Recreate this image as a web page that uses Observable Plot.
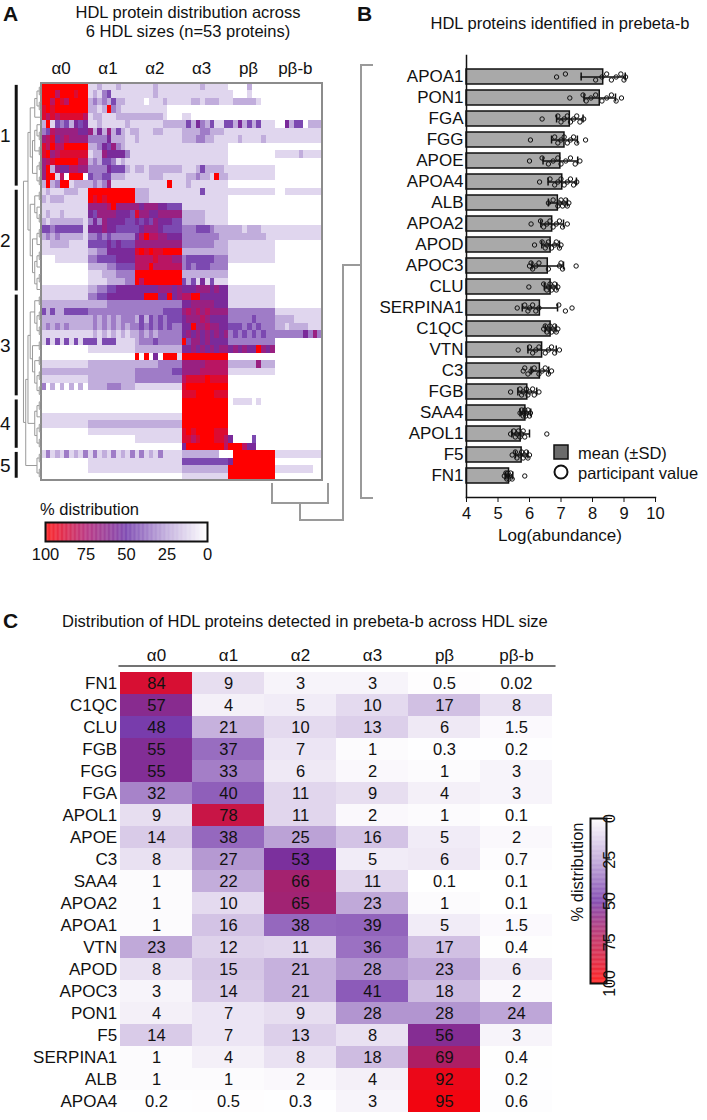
<!DOCTYPE html>
<html><head><meta charset="utf-8">
<script src="https://cdn.jsdelivr.net/npm/d3@7"></script>
<script src="https://cdn.jsdelivr.net/npm/@observablehq/plot@0.6"></script>
<style>
body{margin:0;background:#fff;}
#fig{position:relative;width:707px;height:1120px;overflow:hidden;background:#fff;font-family:"Liberation Sans",Arial,sans-serif;}
</style></head><body><div id="fig"></div>
<script>
// ---------------- DATA ----------------
const sizes = ["α0","α1","α2","α3","pβ","pβ-b"];

// Panel A: 53 proteins x (6 sizes x 10 participants); digit 0..9 = 0..100 % distribution
const heatRows = [
"9999999999 1121112111 1111211111 1111211111 0000200000 0000000000",
"9997999899 1213411111 1111211111 1111111111 1000100000 0000000000",
"9979879999 2323242211 1101112111 1122122211 1222221000 0000000000",
"8989999999 2212932111 1111111000 0000000000 0000000000 0000000000",
"8787888887 1221112222 2222221000 1100000000 0000000000 0000000000",
"2914342545 1121111121 1111112222 2425324114 4252424111 0052440222",
"3476666655 6252624212 2111221111 2222332221 1111111111 1111111111",
"6785676666 3333522211 2111111111 2223322111 1121111211 1111111111",
"8797799999 2235463211 1111111111 1111111111 0000000000 0000000000",
"8967888888 1226555531 1111111111 1111111111 0000000000 1111121111",
"6789999977 2324431211 1111111111 1111111111 0000000000 0000000000",
"6926557766 3333544421 2212222222 1112422221 1111111111 0000000000",
"6991709990 4334422211 1112221111 1223221922 1111111111 0000000000",
"2923991222 2323611111 1111111911 1211111111 0000000000 0000000000",
"1211122211 9999999999 2221111111 1111411111 1111111111 0011111111",
"2122211111 9898999999 2221111111 1111111111 0000000000 0000000000",
"1111111111 6666796666 6566655444 1111111111 0000000000 0000000000",
"1211211111 5466665554 8665566666 2222211111 0000000000 0000000000",
"2122222221 3536555544 5454655544 2222211111 0000000000 0000000000",
"4434444441 5556554444 4566654444 3334443222 2221222111 1111111111",
"2323222221 3343433333 5797766555 3333333322 2222222211 1111111111",
"1122221111 4444545444 6666666666 3333333222 1111111111 0000000000",
"1111111111 2233555555 8989889999 2222222222 1111111111 0000000000",
"0001111111 3344445555 7777877766 3444444333 1111111111 0000000000",
"0000000000 2222334444 7779777777 3434443333 0000000000 0000000000",
"0000000000 1112223333 9999999999 2222222222 0000000000 0000000000",
"0000000000 1111222233 9799999999 4241514111 0000000000 0000000000",
"1111111111 2233445555 5555566656 5556665655 1111111111 0000000000",
"1111111111 3344555555 5599955956 7799555555 1111111111 0000000000",
"2222222222 2222333333 3333333333 5566666555 1111111111 0000000000",
"4242244444 3333333333 3333334444 6767676666 3333333333 1111111111",
"2222222222 2323232333 2424343444 5666765555 3333343333 2222111111",
"2323232222 2323232323 3434343433 5596676655 4443434333 2212222111",
"1111111111 1212121212 2323233333 5656565656 3434343433 3333335363",
"1414141414 4414441111 2333433333 9466565555 3333333333 0000000000",
"0000000000 1111111111 2222222222 5565656566 5656559656 0000000000",
"0000000000 0000000000 9090509991 9999999999 0000000000 0000000000",
"1111111111 2222222222 2222233333 6666677777 2222226222 0000000000",
"2222222222 2222222222 3333333344 6666777777 1111111111 0000000000",
"1111111111 2222222222 3333333333 7888898888 0000000000 0000000000",
"3020202020 2222333222 1111111111 8999999999 0000000000 0000000000",
"0000000000 0000000000 0000000000 8889999888 0000000000 0000000000",
"0000000000 0000000000 0000000000 9999999999 0111101000 0000000000",
"0000000000 0000000000 0000000000 9999999999 0000000000 0000000000",
"1111111111 1111111111 1111111111 9999999999 0000000000 0000000000",
"1111111111 2222222222 2222222222 9999999999 0000000000 0000000000",
"0000000000 1111111111 1111111111 8989999888 0000000000 0000000000",
"0000000000 0000000000 1111111111 8878999887 5000040000 0000000000",
"0000000000 0000000000 0000000000 5999999997 9997550000 0000000000",
"1312131213 1312131213 1312131111 2222222200 0999999999 1111111111",
"0000000000 1111111111 1111111111 4444444444 5999999999 0000000000",
"0000000000 1111111111 1111111111 2222222222 9999999999 1111111100",
"0000000000 0000000000 0000000000 1111111111 9999999999 0000000000"
];
const clusterLabels = ["1","2","3","4","5"];
const clusterStartRow = [0, 14, 28, 42, 49];
const clusterEndRow = [13, 27, 41, 48, 52];
const rowTree = [
  [
    [[[[0,1],[2,3]],4],[[[5,[6,7]],[8,9]],[[10,11],[12,13]]]],
    [[[14,15],[16,[17,18]]],[[[19,20],21],[[[22,23],24],[[25,26],27]]]]
  ],
  [
    [
      [[[28,29],[[30,31],[32,33]]],[[34,35],[[36,37],[[38,39],[40,41]]]]],
      [[[42,43],44],[[45,46],[47,48]]]
    ],
    [[49,50],[51,52]]
  ]
];

// Panel B
const bProteins = ["APOA1","PON1","FGA","FGG","APOE","APOA4","ALB","APOA2","APOD","APOC3","CLU","SERPINA1","C1QC","VTN","C3","FGB","SAA4","APOL1","F5","FN1"];
const bMean = [8.34,8.23,7.28,7.11,6.98,7.04,6.9,6.72,6.67,6.58,6.67,6.33,6.67,6.4,6.33,5.93,5.87,5.72,5.75,5.35];
const bSD   = [0.7,0.5,0.42,0.41,0.55,0.45,0.3,0.36,0.28,0.5,0.2,0.56,0.17,0.45,0.28,0.3,0.17,0.28,0.2,0.12];
const bValues = [
  [6.86,7.14,8.1,8.3,8.45,8.6,8.75,8.9,9.0,9.05],
  [7.28,7.7,7.8,7.95,8.1,8.3,8.45,8.6,8.75,8.92],
  [6.4,6.9,7.0,7.1,7.2,7.3,7.4,7.5,7.6,7.72],
  [6.03,6.8,6.9,7.0,7.1,7.2,7.3,7.4,7.5,7.78],
  [6.0,6.4,6.6,6.75,6.9,7.0,7.15,7.3,7.45,7.6],
  [6.32,6.65,6.8,6.9,7.0,7.1,7.2,7.3,7.4,7.5],
  [6.6,6.75,6.9,6.95,7.0,7.05,7.1,7.15,7.2,7.25],
  [6.05,6.35,6.45,6.55,6.65,6.75,6.85,6.95,7.05,7.2],
  [6.16,6.4,6.5,6.55,6.6,6.7,6.8,6.85,6.95,7.0],
  [6.0,6.05,6.1,6.2,6.3,6.6,6.95,7.0,7.05,7.48],
  [5.98,6.45,6.55,6.6,6.65,6.7,6.75,6.8,6.85,6.9],
  [5.61,5.85,5.95,6.0,6.1,6.2,6.3,6.93,7.14,7.35],
  [6.45,6.5,6.55,6.6,6.65,6.7,6.75,6.8,6.85,6.9],
  [5.64,6.0,6.1,6.2,6.3,6.5,6.6,6.7,6.8,6.95],
  [5.8,5.85,5.95,6.05,6.15,6.3,6.4,6.5,6.6,6.7],
  [5.4,5.7,5.75,5.8,5.9,5.95,6.0,6.1,6.15,6.3],
  [5.7,5.75,5.8,5.82,5.85,5.88,5.9,5.95,6.0,6.03],
  [5.4,5.5,5.55,5.6,5.65,5.7,5.75,5.8,5.85,6.55],
  [5.45,5.55,5.6,5.7,5.75,5.8,5.85,5.9,5.95,6.0],
  [5.2,5.25,5.28,5.3,5.32,5.35,5.38,5.4,5.45,5.85]
];
const abundanceTicks = [4,5,6,7,8,9,10];

// Panel C
const cProteins = ["FN1","C1QC","CLU","FGB","FGG","FGA","APOL1","APOE","C3","SAA4","APOA2","APOA1","VTN","APOD","APOC3","PON1","F5","SERPINA1","ALB","APOA4"];
const cValues = [
  [84,9,3,3,0.5,0.02],
  [57,4,5,10,17,8],
  [48,21,10,13,6,1.5],
  [55,37,7,1,0.3,0.2],
  [55,33,6,2,1,3],
  [32,40,11,9,4,3],
  [9,78,11,2,1,0.1],
  [14,38,25,16,5,2],
  [8,27,53,5,6,0.7],
  [1,22,66,11,0.1,0.1],
  [1,10,65,23,1,0.1],
  [1,16,38,39,5,1.5],
  [23,12,11,36,17,0.4],
  [8,15,21,28,23,6],
  [3,14,21,41,18,2],
  [4,7,9,28,28,24],
  [14,7,13,8,56,3],
  [1,4,8,18,69,0.4],
  [1,1,2,4,92,0.2],
  [0.2,0.5,0.3,3,95,0.6]
];
const distTicks = [0,25,50,75,100];

// ---------------- STYLE / SCALES ----------------
const FONT = '"Liberation Sans", Arial, sans-serif';
const baseStyle = {fontFamily: FONT, fontSize: "16px", color: "#111", background: "transparent", overflow: "visible"};
const colorA = {type: "linear", domain: [0,25,50,75,100], range: ["#ffffff","#b9a3d8","#6a2fa6","#b0186f","#ff0000"], interpolate: "rgb"};
const colorC = {type: "linear", domain: [0,25,50,75,100], range: ["#ffffff","#bba2d6","#7233a8","#c0184f","#ff0000"], interpolate: "rgb"};

const fig = document.getElementById("fig");
function place(el, left, top) {
  el.style.position = "absolute";
  el.style.left = left + "px";
  el.style.top = top + "px";
  fig.appendChild(el);
}

// ---------------- PANEL A ----------------
const nRows = heatRows.length;
const nCols = heatRows[0].replace(/\s+/g, "").length;
const perGroup = nCols / sizes.length;
const cellsA = [];
heatRows.forEach((s, r) => s.replace(/\s+/g, "").split("").forEach((d, c) => cellsA.push({r, c, v: (+d) / 9 * 100})));

function depth(n) { return typeof n === "number" ? 0 : 1 + Math.max(...n.map(depth)); }
const maxDepth = depth(rowTree);
const dendroWidth = 3.85; // in column units
const kStep = dendroWidth / maxDepth;
const segs = [];
(function walk(n) {
  if (typeof n === "number") return {y: n + 0.5, h: 0};
  const kids = n.map(walk);
  const h = 1 + Math.max(...kids.map(c => c.h));
  const x = -h * kStep;
  for (const c of kids) segs.push({x1: c.h === 0 ? -0.15 : -c.h * kStep, x2: x, y1: c.y, y2: c.y});
  segs.push({x1: x, x2: x, y1: kids[0].y, y2: kids[kids.length - 1].y});
  return {y: d3.mean(kids, c => c.y), h};
})(rowTree);

const plotA = Plot.plot({
  width: 345, height: 490, marginTop: 0, marginBottom: 0, marginLeft: 0, marginRight: 0,
  x: {domain: [-8.755, nCols], range: [0, 322], axis: null},
  y: {domain: [0, nRows], range: [83, 480], axis: null},
  color: colorA,
  style: baseStyle,
  marks: [
    Plot.rect(cellsA, {x1: "c", x2: d => d.c + 1, y1: "r", y2: d => d.r + 1, fill: "v", shapeRendering: "crispEdges"}),
    Plot.rect([0], {x1: 0, x2: nCols, y1: 0, y2: nRows, fill: "none", stroke: "#8c8c8c", strokeWidth: 2}),
    Plot.link(segs, {x1: "x1", y1: "y1", x2: "x2", y2: "y2", stroke: "#9a9a9a", strokeWidth: 1}),
    Plot.ruleX(clusterLabels, {x: -5.4, y1: (d, i) => clusterStartRow[i] + 0.25, y2: (d, i) => clusterEndRow[i] + 0.7, stroke: "#111", strokeWidth: 3}),
    Plot.text(clusterLabels, {x: -7.75, y: (d, i) => (clusterStartRow[i] + clusterEndRow[i] + 1) / 2, text: d => d, fontSize: 19, fill: "#111"}),
    Plot.text(sizes, {x: (d, i) => i * perGroup + perGroup / 2 - 0.8, y: -1.25, text: d => d, fontSize: 17, lineAnchor: "bottom", fill: "#111"})
  ]
});
place(plotA, 0, 0);

// colour bar A
const stepsA = d3.range(0, 100, 0.5);
const barA = Plot.plot({
  width: 215, height: 70, marginTop: 22, marginBottom: 29, marginLeft: 45, marginRight: 8,
  x: {domain: [100, 0]}, y: {domain: [0, 1], axis: null},
  color: colorA, style: baseStyle,
  marks: [
    Plot.rect(stepsA, {x1: d => d, x2: d => d + 0.5, y1: 0, y2: 1, fill: d => d + 0.25}),
    Plot.frame({stroke: "#111", strokeWidth: 2}),
    Plot.axisX({ticks: distTicks, tickSize: 0, tickPadding: 7, fontSize: 16.5, label: null})
  ]
});
place(barA, 0, 500);

// ---------------- PANEL B ----------------
const bData = bProteins.map((name, i) => ({name, mean: bMean[i], sd: bSD[i]}));
const bDots = bProteins.flatMap((name, i) => bValues[i].map((v, j) => ({name, v, j})));
const dotOpts = {x: "v", y: "name", r: 2.2, stroke: "#111", strokeWidth: 1, fill: "none"};
const plotB = Plot.plot({
  width: 367, height: 530, marginTop: 55, marginBottom: 33, marginLeft: 126, marginRight: 52,
  x: {domain: [4, 10]},
  y: {domain: bProteins, paddingInner: 0.3, paddingOuter: 0.38},
  style: baseStyle,
  marks: [
    Plot.barX(bData, {y: "name", x1: 4, x2: "mean", fill: "#a9a9a9", stroke: "#111", strokeWidth: 1.5}),
    Plot.ruleY(bData, {y: "name", x1: d => d.mean - d.sd, x2: d => d.mean + d.sd, stroke: "#111", strokeWidth: 1.5}),
    Plot.tickX(bData, {y: "name", x: d => d.mean - d.sd, stroke: "#111", strokeWidth: 1.5, insetTop: 3.5, insetBottom: 3.5}),
    Plot.tickX(bData, {y: "name", x: d => d.mean + d.sd, stroke: "#111", strokeWidth: 1.5, insetTop: 3.5, insetBottom: 3.5}),
    Plot.dot(bDots.filter(d => d.j % 3 === 0), {...dotOpts}),
    Plot.dot(bDots.filter(d => d.j % 3 === 1), {...dotOpts, dy: -3}),
    Plot.dot(bDots.filter(d => d.j % 3 === 2), {...dotOpts, dy: 3}),
    Plot.frame({anchor: "left", stroke: "#111", strokeWidth: 1.5}),
    Plot.frame({anchor: "bottom", stroke: "#111", strokeWidth: 1.5}),
    Plot.axisX({ticks: abundanceTicks, tickFormat: d => String(d), tickSize: 5, tickPadding: 5, fontSize: 16.5, label: null}),
    Plot.axisY({tickSize: 0, tickPadding: 3, fontSize: 17, label: null})
  ]
});
place(plotB, 340, 0);

// ---------------- PANEL C ----------------
const cCells = cProteins.flatMap((p, i) => sizes.map((s, j) => ({p, s, v: cValues[i][j]})));
const plotC = Plot.plot({
  width: 707, height: 520, marginTop: 65.6, marginBottom: 0.6, marginLeft: 118.7, marginRight: 152.7,
  x: {domain: sizes, padding: 0}, y: {domain: cProteins, padding: 0},
  color: colorC, style: baseStyle,
  marks: [
    Plot.cell(cCells, {x: "s", y: "p", fill: "v"}),
    Plot.text(cCells, {x: "s", y: "p", text: d => String(d.v), fontSize: 16.5, fill: "#111"}),
    Plot.frame({anchor: "top", stroke: "#444", strokeWidth: 1.5}),
    Plot.axisX({anchor: "top", tickSize: 0, tickPadding: 5, fontSize: 17, label: null}),
    Plot.axisY({anchor: "left", tickSize: 0, tickPadding: 2, fontSize: 17, label: null})
  ]
});
place(plotC, 0, 600);

// colour bar C
const barC = Plot.plot({
  width: 90, height: 200, marginTop: 18, marginBottom: 17, marginLeft: 35, marginRight: 39,
  x: {domain: [0, 1], axis: null}, y: {domain: [0, 100], reverse: true},
  color: colorC, style: baseStyle,
  marks: [
    Plot.rect(stepsA, {x1: 0, x2: 1, y1: d => d, y2: d => d + 0.5, fill: d => d + 0.25}),
    Plot.frame({stroke: "#111", strokeWidth: 2}),
    Plot.axisY({anchor: "right", ticks: distTicks, tickSize: 5, tickPadding: 3, tickRotate: -90, fontSize: 16, label: null})
  ]
});
place(barC, 555, 800);

// ---------------- OVERLAY: titles, legend, connectors ----------------
const ov = d3.create("svg").attr("width", 707).attr("height", 1120)
  .style("position", "absolute").style("left", "0px").style("top", "0px")
  .style("pointer-events", "none").style("font-family", FONT).attr("fill", "#111");
function txt(x, y, s, size, opts = {}) {
  const t = ov.append("text").attr("x", x).attr("y", y).attr("font-size", size).text(s);
  if (opts.anchor) t.attr("text-anchor", opts.anchor);
  if (opts.bold) t.attr("font-weight", "bold");
  if (opts.rotate) t.attr("transform", `rotate(${opts.rotate},${x},${y})`);
  return t;
}
txt(3, 21, "A", 21, {bold: true});
txt(188, 18, "HDL protein distribution across", 16.5, {anchor: "middle"});
txt(188, 37, "6 HDL sizes (n=53 proteins)", 16.5, {anchor: "middle"});
txt(40, 515, "% distribution", 16.5);
txt(357, 21, "B", 21, {bold: true});
txt(560, 29, "HDL proteins identified in prebeta-b", 16.5, {anchor: "middle"});
txt(560, 541, "Log(abundance)", 17, {anchor: "middle"});
// legend B
ov.append("rect").attr("x", 554).attr("y", 445).attr("width", 14).attr("height", 14).attr("fill", "#6b6b6b").attr("stroke", "#111").attr("stroke-width", 1.5);
txt(578, 459, "mean (±SD)", 16.5);
ov.append("circle").attr("cx", 561).attr("cy", 472).attr("r", 6.5).attr("fill", "#fff").attr("stroke", "#111").attr("stroke-width", 2);
txt(578, 479, "participant value", 16.5);
txt(3, 628, "C", 21, {bold: true});
txt(62, 627, "Distribution of HDL proteins detected in prebeta-b across HDL size", 16.5);
txt(583, 872, "% distribution", 16.5, {anchor: "middle", rotate: -90});
// column dendrogram under A and bracket joining panel B
const conn = ov.append("g").attr("fill", "none").attr("stroke", "#9a9a9a").attr("stroke-width", 2);
conn.append("path").attr("d", "M272,483V503H328V483");
conn.append("path").attr("d", "M300,503V520H343V265H361");
conn.append("path").attr("d", "M373,65H361V498H373");
fig.appendChild(ov.node());
</script></body></html>
